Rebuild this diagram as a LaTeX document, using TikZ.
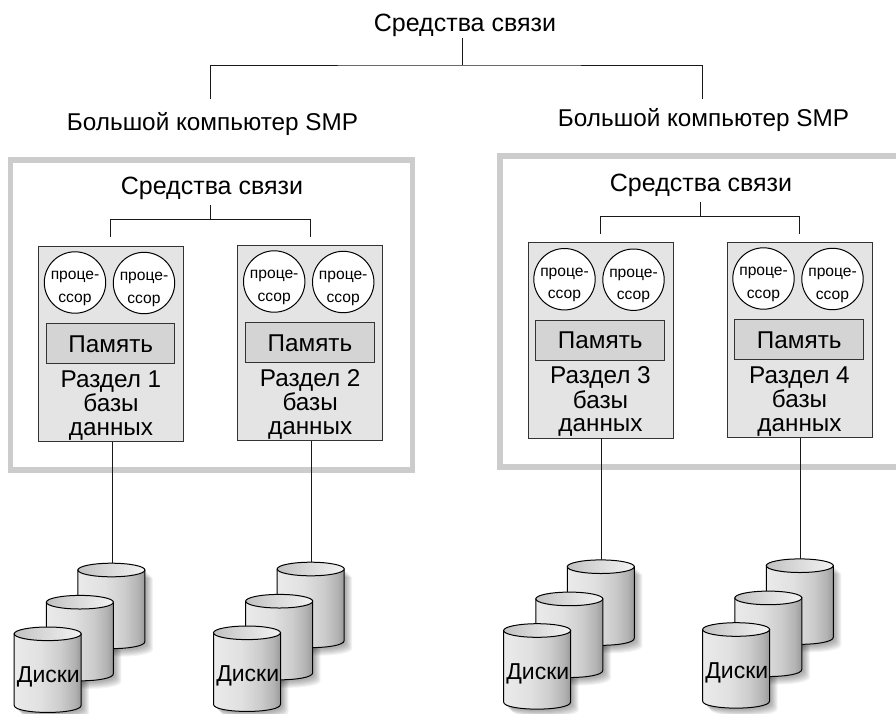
\documentclass[tikz,border=0pt]{standalone}
\usepackage{fontspec}
\setmainfont{Liberation Sans}
\usetikzlibrary{calc}
\definecolor{panelgray}{gray}{0.895}
\definecolor{memgray}{gray}{0.83}
\definecolor{framegray}{gray}{0.8}
\pgfdeclarehorizontalshading{cylbody}{100bp}{color(0bp)=(black!8); color(25bp)=(black!8); color(45bp)=(black!12); color(60bp)=(black!20); color(70bp)=(black!30); color(75bp)=(black!40); color(100bp)=(black!40)}
\pgfdeclarehorizontalshading{cyltop}{100bp}{color(0bp)=(black!24); color(25bp)=(black!24); color(50bp)=(black!14); color(75bp)=(black!5); color(100bp)=(black!5)}
\tikzset{
  x=1pt,y=-1pt,
  wire/.style={draw=black!90,line width=1pt},
  frameline/.style={draw=framegray,line width=5.5pt},
  panel/.style={draw=black!80,line width=1pt,fill=panelgray,minimum width=145pt,minimum height=195.5pt,inner sep=0pt,outer sep=0pt},
  mem/.style={draw=black!80,line width=1pt,fill=memgray,minimum width=128.5pt,minimum height=40pt,inner sep=0pt},
  cpu/.style={circle,draw=black,line width=1pt,fill=white,minimum size=61.4pt,inner sep=0pt},
  cputext/.style={inner sep=0pt,anchor=base,font=\fontsize{15.6}{15.6}\selectfont},
  big/.style={inner sep=0pt,anchor=base,font=\fontsize{24.3}{24.3}\selectfont},
  head/.style={inner sep=0pt,anchor=base,font=\fontsize{25}{25}\selectfont},
  disklabel/.style={inner sep=0pt,anchor=base,font=\fontsize{23}{23}\selectfont},
  cylline/.style={draw=black,line width=1pt},
  shadowlayer/.style={fill=black,fill opacity=0.05,draw=none},
}
% #1 name, #2 left, #3 top, #4 number
\newcommand{\partbox}[4]{%
  \node[panel,anchor=north west] (#1) at (#2,#3) {};
  \node[cpu] (#1c) at ($(#2,#3)+(36.5,36.5)$) {};
  \node[cputext] (#1ca) at ($(#2,#3)+(36.5,33.8)$) {проце-};
  \node[cputext] (#1cb) at ($(#2,#3)+(36.5,56.2)$) {ссор};
  \node[cpu] (#1d) at ($(#2,#3)+(105.5,37)$) {};
  \node[cputext] (#1da) at ($(#2,#3)+(105.5,34.8)$) {проце-};
  \node[cputext] (#1db) at ($(#2,#3)+(105.5,57.2)$) {ссор};
  \node[mem] (#1m) at ($(#2,#3)+(72.2,97.3)$) {};
  \node[big] (#1t) at ($(#2,#3)+(72.2,106.2)$) {Память};
  \node[big] (#1a) at ($(#2,#3)+(72.5,141.2)$) {Раздел #4};
  \node[big] (#1b) at ($(#2,#3)+(72.5,165.7)$) {базы};
  \node[big] (#1e) at ($(#2,#3)+(72.5,189)$) {данных};
}
% shadow of one cylinder: #1 centre x, #2 top-ellipse centre y
\newcommand{\cylshade}[2]{%
  \foreach \d in {2,3,4,5,6,7,8}{%
    \fill[shadowlayer] (#1-33.5+\d,#2+\d) -- (#1+33.5+\d,#2+\d) -- (#1+33.5+\d,#2+71.5+\d)
      .. controls (#1+33.5+\d,#2+81+\d) and (#1-33.5+\d,#2+81+\d) .. (#1-33.5+\d,#2+71.5+\d) -- cycle;
  }%
}
\newcommand{\cyl}[2]{%
  \path[shading=cylbody,cylline]
    (#1-33.5,#2) -- (#1-33.5,#2+71.5)
    .. controls (#1-33.5,#2+81) and (#1+33.5,#2+81) .. (#1+33.5,#2+71.5)
    -- (#1+33.5,#2) -- cycle;
  \path[shading=cyltop,cylline] (#1,#2) ellipse[x radius=33.5,y radius=6.8];
}
% #1 name, #2 back-cylinder centre x, #3 back-cylinder top y
\newcommand{\diskgroup}[3]{%
  \cylshade{#2}{#3}
  \cylshade{#2-31.5}{#3+32.2}
  \cylshade{#2-63.7}{#3+63.8}
  \cyl{#2}{#3}
  \cyl{#2-31.5}{#3+32.2}
  \cyl{#2-63.7}{#3+63.8}
  \node[disklabel] (#1l) at (#2-63,#3+112.7) {Диски};
  \coordinate (#1t) at (#2+0.9,#3-6.8);
}
\begin{document}
\begin{tikzpicture}
\useasboundingbox (0,0) rectangle (896,713);
\clip (0,0) rectangle (896,713);
\draw[frameline] (10.5,160) rectangle (412.5,470);
\draw[frameline] (500,156) rectangle (899,467);
\diskgroup{g1}{111.4}{570}
\diskgroup{g2}{310.7}{569}
\diskgroup{g3}{600.8}{566.7}
\diskgroup{g4}{799.8}{565.7}
\partbox{p1}{38.5}{246}{1}
\partbox{p2}{237.7}{245}{2}
\partbox{p3}{528}{242.7}{3}
\partbox{p4}{727}{242}{4}
% local communications
\node[head] (c1) at (212,194.5) {Средства связи};
\node[head] (c2) at (701,191.5) {Средства связи};
\coordinate (c1j) at (210.5,219.5);
\coordinate (c2j) at (700,216.5);
\coordinate (c1a) at (110,237);
\coordinate (c1b) at (310,237);
\coordinate (c2a) at (600,234);
\coordinate (c2b) at (799,234);
\draw[wire] (210.5,205) -- (c1j);
\draw[wire] (c1a) |- (c1j) -| (c1b);
\draw[wire] (700,202) -- (c2j);
\draw[wire] (c2a) |- (c2j) -| (c2b);
\draw[wire] (p1.south -| g1t) -- (g1t);
\draw[wire] (p2.south -| g2t) -- (g2t);
\draw[wire] (p3.south -| g3t) -- (g3t);
\draw[wire] (p4.south -| g4t) -- (g4t);
% top
\node[head] (top) at (465,31) {Средства связи};
\node[big] (l) at (212.5,130) {Большой компьютер SMP};
\node[big] (r) at (703.5,126) {Большой компьютер SMP};
\coordinate (tj) at (462,65);
\coordinate (ta) at (210.5,99);
\coordinate (tb) at (702,99);
\draw[wire] (462,37.7) -- (tj);
\draw[wire] (ta) |- (tj) -| (tb);
\end{tikzpicture}
\end{document}
